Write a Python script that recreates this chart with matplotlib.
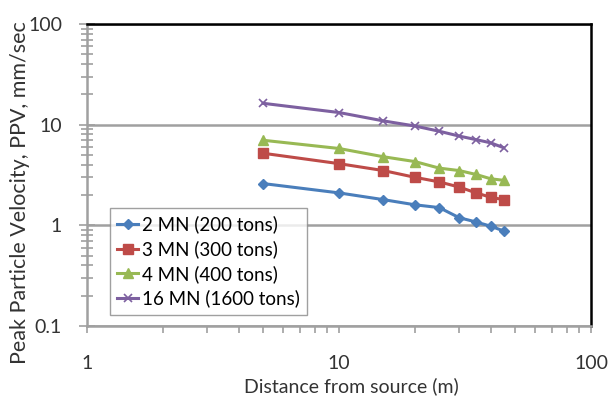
import matplotlib
matplotlib.use("Agg")
import matplotlib.pyplot as plt
from matplotlib.ticker import LogLocator, FixedLocator, NullFormatter

distance = [5, 10, 15, 20, 25, 30, 35, 40, 45]
series_labels = ["2 MN (200 tons)", "3 MN (300 tons)", "4 MN (400 tons)", "16 MN (1600 tons)"]
ppv_2mn = [2.6, 2.1, 1.8, 1.6, 1.5, 1.19, 1.08, 0.98, 0.88]
ppv_3mn = [5.2, 4.1, 3.5, 3.0, 2.7, 2.4, 2.1, 1.9, 1.8]
ppv_4mn = [7.0, 5.8, 4.8, 4.3, 3.7, 3.5, 3.2, 2.9, 2.8]
ppv_16mn = [16.3, 13.2, 10.9, 9.7, 8.6, 7.7, 7.1, 6.6, 5.9]
x_ticks = [1, 10, 100]
x_ticklabels = ["1", "10", "100"]
y_ticks = [0.1, 1, 10, 100]
y_ticklabels = ["0.1", "1", "10", "100"]

plt.rcParams['font.family'] = ['Lato', 'DejaVu Sans']

fig = plt.figure(figsize=(6.08, 4.0), dpi=100)
ax = fig.add_axes([87/608, 1 - 326/400, (591-87)/608, (326-24)/400])

styles = [
    dict(color="#4a7ebb", marker="D", markersize=5.5),
    dict(color="#be4b48", marker="s", markersize=6.5),
    dict(color="#98b954", marker="^", markersize=6.5),
    dict(color="#7d60a0", marker="x", markersize=6, markeredgewidth=1.2),
]
for vals, lab, st in zip([ppv_2mn, ppv_3mn, ppv_4mn, ppv_16mn], series_labels, styles):
    ax.plot(distance, vals, label=lab, linewidth=2.2, **st)

ax.set_xscale("log")
ax.set_yscale("log")
ax.set_xlim(1, 100)
ax.set_ylim(0.1, 100)

ax.xaxis.set_major_locator(FixedLocator(x_ticks))
ax.set_xticklabels(x_ticklabels)
ax.yaxis.set_major_locator(FixedLocator(y_ticks))
ax.set_yticklabels(y_ticklabels)
ax.xaxis.set_minor_locator(LogLocator(base=10, subs=range(2, 10)))
ax.yaxis.set_minor_locator(LogLocator(base=10, subs=range(2, 10)))
ax.xaxis.set_minor_formatter(NullFormatter())
ax.yaxis.set_minor_formatter(NullFormatter())

gray = "#a0a0a0"
ax.grid(True, which="major", axis="y", color=gray, linewidth=1.8)
ax.set_axisbelow(True)

for s in ["left", "bottom"]:
    ax.spines[s].set_color(gray)
    ax.spines[s].set_linewidth(1.8)
for s in ["top", "right"]:
    ax.spines[s].set_color("black")
    ax.spines[s].set_linewidth(1.8)

ax.tick_params(axis="y", which="both", direction="inout", color=gray, width=1.2)
ax.tick_params(axis="y", which="major", length=12, labelsize=14, pad=12)
ax.tick_params(axis="y", which="minor", length=8)
ax.tick_params(axis="x", which="both", direction="out", color=gray, width=1.2)
ax.tick_params(axis="x", which="major", length=5, labelsize=14, pad=16)
ax.tick_params(axis="x", which="minor", length=5)

ax.set_xlabel("Distance from source (m)", fontsize=14, color="#333333")
ax.xaxis.set_label_coords((351.7-87)/504, (326-377)/302)
ax.set_ylabel("Peak Particle Velocity, PPV, mm/sec", fontsize=15.5, color="#333333")
ax.yaxis.set_label_coords((30-87)/504, (326-193)/302)
for lbl in ax.get_xticklabels() + ax.get_yticklabels():
    lbl.set_color("#333333")

leg = ax.legend(loc="lower left", bbox_to_anchor=((110-87)/504, (326-315)/302),
                fontsize=13.5, frameon=True, fancybox=False, handlelength=1.1,
                handletextpad=0.2, borderpad=0.4, labelspacing=0.36, borderaxespad=0)
leg.get_frame().set_edgecolor("#888888")
leg.get_frame().set_linewidth(1.0)

fig.savefig("out.png", dpi=100)
